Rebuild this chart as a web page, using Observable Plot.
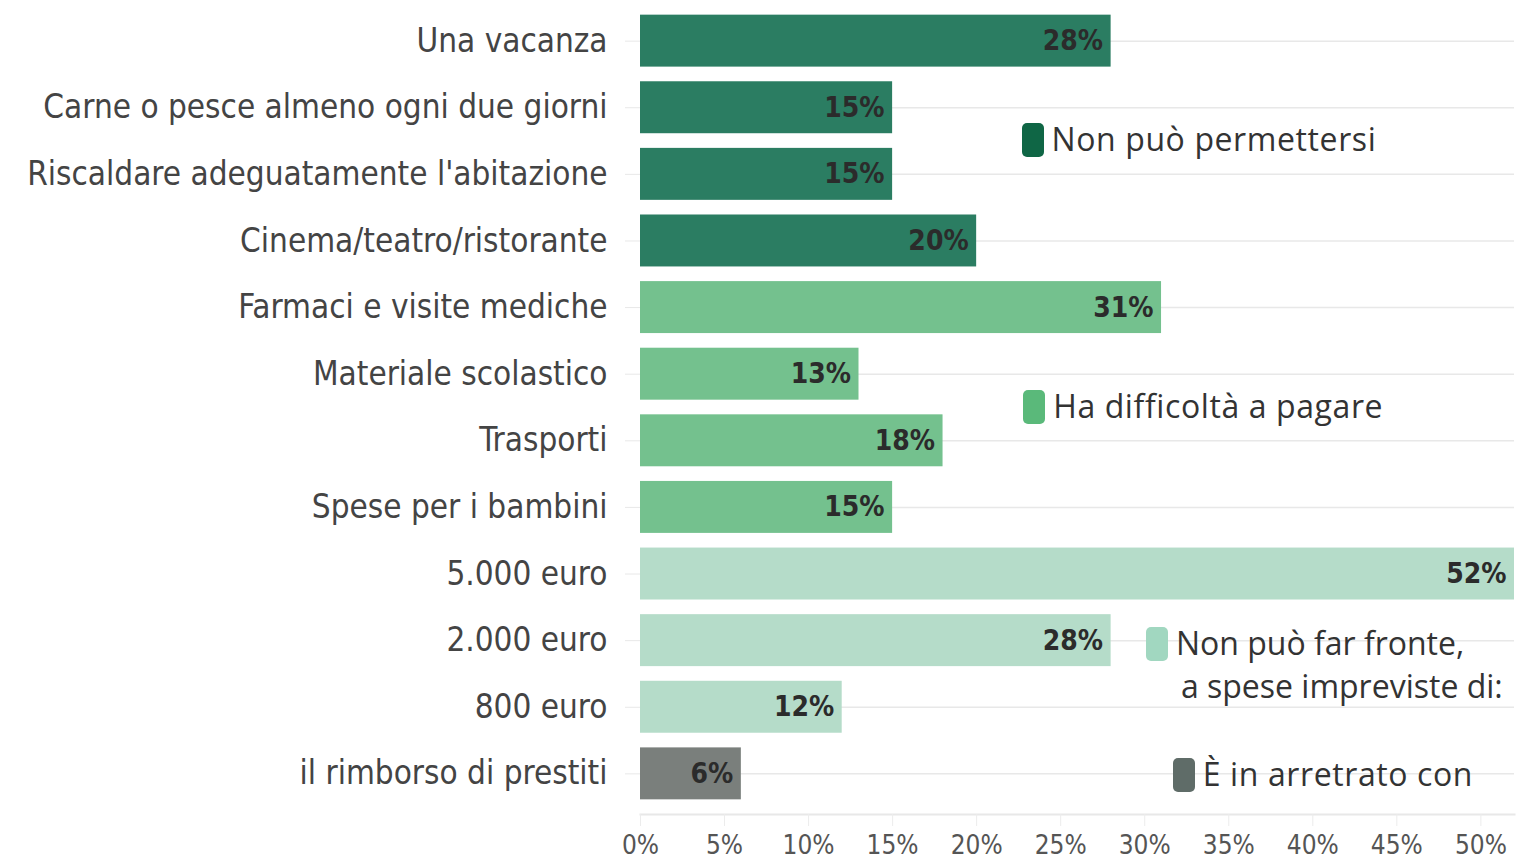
<!DOCTYPE html>
<html><head><meta charset="utf-8">
<script src="https://cdn.jsdelivr.net/npm/d3@7"></script>
<script src="https://cdn.jsdelivr.net/npm/@observablehq/plot@0.6"></script>
<style>
html,body{margin:0;padding:0;background:#fff;}
#wrap{position:relative;width:1521px;height:859px;}
.lg{position:absolute;font-family:"Open Sans","Noto Sans",sans-serif;font-size:32px;letter-spacing:0.5px;color:#333;line-height:43px;white-space:pre;}
.sw{position:absolute;width:22px;height:34px;border-radius:5px;}
</style></head>
<body><div id="wrap"></div>
<script>
const categories = ["Una vacanza","Carne o pesce almeno ogni due giorni","Riscaldare adeguatamente l'abitazione","Cinema/teatro/ristorante","Farmaci e visite mediche","Materiale scolastico","Trasporti","Spese per i bambini","5.000 euro","2.000 euro","800 euro","il rimborso di prestiti"];
const values = [28,15,15,20,31,13,18,15,52,28,12,6];
const groups = ["Non può permettersi","Non può permettersi","Non può permettersi","Non può permettersi","Ha difficoltà a pagare","Ha difficoltà a pagare","Ha difficoltà a pagare","Ha difficoltà a pagare","Non può far fronte","Non può far fronte","Non può far fronte","È in arretrato con"];
const groupNames = ["Non può permettersi","Ha difficoltà a pagare","Non può far fronte","È in arretrato con"];
const legendLabels = ["Non può permettersi","Ha difficoltà a pagare","Non può far fronte,\na spese impreviste di:","È in arretrato con"];
const barColors = ["#2b7d62","#74c18e","#b5dcc9","#7a7f7c"];
const swatchColors = ["#0f6645","#5ab97a","#a1d7c0","#5f6c68"];
const xTicks = [0,5,10,15,20,25,30,35,40,45,50];
// legend layout: anchor row, x position (percent units), vertical offset, letter spacing
const legendRow = ["Carne o pesce almeno ogni due giorni","Materiale scolastico","2.000 euro","il rimborso di prestiti"];
const legendX = [22.7,22.8,30.1,31.7];
const legendDy = [33,33,4,2];
const legendSpacing = [0.6,0.6,0,0.6];

const data = categories.map((c,i)=>({cat:c, value:values[i], group:groups[i]}));
const condensed = "'DejaVu Sans Condensed','DejaVu Sans',sans-serif";

const chart = Plot.plot({
  width:1521, height:859,
  marginLeft:640, marginRight:7, marginTop:0, marginBottom:45,
  style:{fontFamily:condensed, background:"#fff", fontStretch:"condensed"},
  x:{domain:[0,52], ticks:xTicks, tickFormat:d=>d+"%"},
  y:{domain:categories, padding:0.22, round:false},
  color:{domain:groupNames, range:barColors},
  marks:[
    Plot.gridY({stroke:"#e8e8e8", strokeOpacity:1, strokeWidth:1.5}),
    Plot.frame({anchor:"bottom", stroke:"#e8e8e8", strokeWidth:2}),
    Plot.axisY({tickSize:15, tickPadding:18, stroke:"#e8e8e8", fontSize:33, fill:"#444", label:null}),
    Plot.axisX({ticks:xTicks, tickFormat:d=>d+"%", tickSize:12, stroke:"#ececec", tickPadding:9, fontSize:26, fill:"#555", label:null}),
    Plot.barX(data,{x:"value", y:"cat", fill:"group"}),
    Plot.text(data,{x:"value", y:"cat", text:d=>d.value+"%", textAnchor:"end", dx:-8, fontSize:28, fontWeight:"bold", fill:"#2b2b2b"})
  ]
});
const wrap = document.getElementById("wrap");
wrap.appendChild(chart);
const xs = chart.scale("x"), ys = chart.scale("y");
legendLabels.forEach((t,i)=>{
  const left = xs.apply(legendX[i]);
  const cy = ys.apply(legendRow[i]) + ys.bandwidth/2 + legendDy[i];
  const sw = document.createElement("div");
  sw.className="sw"; sw.style.background=swatchColors[i];
  sw.style.left=left+"px"; sw.style.top=(cy-17)+"px";
  wrap.appendChild(sw);
  const lines = t.split("\n");
  lines.forEach((line,j)=>{
    const lb = document.createElement("div");
    lb.className="lg"; lb.textContent=line;
    lb.style.letterSpacing=legendSpacing[i]+"px";
    lb.style.left=(left+30+(j>0?5:0))+"px"; lb.style.top=(cy-23+43*j)+"px";
    wrap.appendChild(lb);
  });
});
</script></body></html>
